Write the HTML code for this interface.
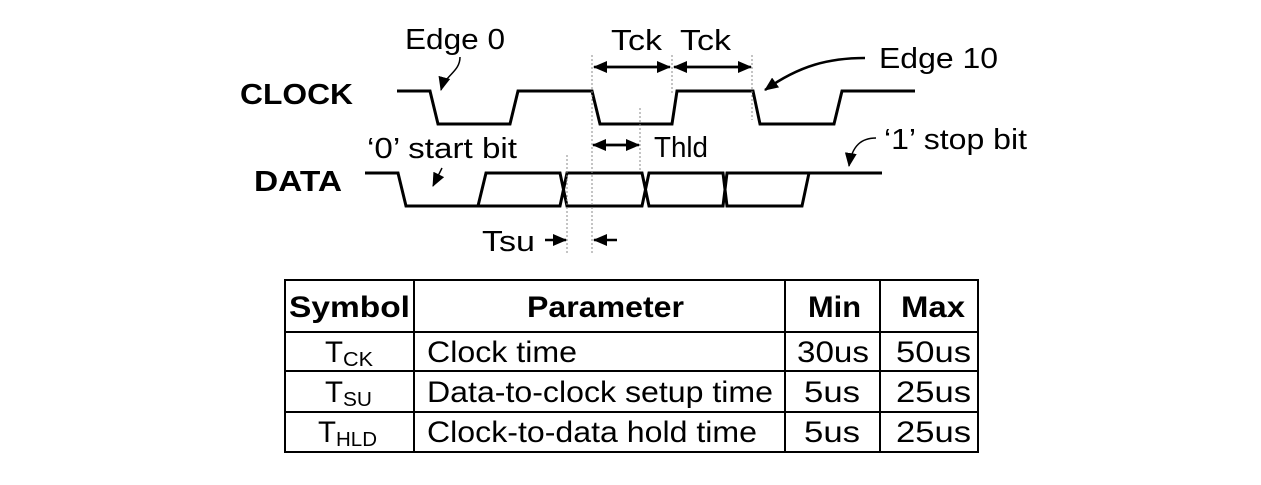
<!DOCTYPE html>
<html><head><meta charset="utf-8"><style>body{margin:0;background:#fff}svg{display:block}</style></head><body>
<svg width="1261" height="485" viewBox="0 0 1261 485" xmlns="http://www.w3.org/2000/svg" font-family="Liberation Sans, sans-serif">
<defs><marker id="a" markerWidth="14" markerHeight="12" refX="13" refY="6" orient="auto" markerUnits="userSpaceOnUse"><path d="M0,0 L14,6 L0,12z" fill="#000"/></marker></defs>
<g fill="none" stroke="#000" stroke-width="3">
<polyline points="397,91 430,91 438,124 510,124 518,91 592,91 600,124 672,124 677,91 753,91 760,124 834,124 842,91 915,91"/>
<polyline points="365,173 398,173 406,206 478,206 486,173 560,173 567,206 642,206 649,173 723,173 727,206 802,206 809,173 882,173"/>
<polyline points="479,206 560,206 567,173 642,173 649,206 723,206 727,173 809,173"/>
</g>
<g stroke="#888" stroke-width="1" stroke-dasharray="2,2">
<line x1="567" y1="155" x2="567" y2="255"/><line x1="592" y1="55" x2="592" y2="255"/>
<line x1="640" y1="108" x2="640" y2="172"/><line x1="672" y1="55" x2="672" y2="95"/><line x1="752" y1="55" x2="752" y2="120"/>
</g>
<g stroke="#000" stroke-width="2.5" fill="none">
<line x1="600" y1="67" x2="670" y2="67" marker-end="url(#a)"/><line x1="664" y1="67" x2="594" y2="67" marker-end="url(#a)"/>
<line x1="680" y1="67" x2="751" y2="67" marker-end="url(#a)"/><line x1="745" y1="67" x2="674" y2="67" marker-end="url(#a)"/>
<line x1="598" y1="145" x2="639" y2="145" marker-end="url(#a)"/><line x1="636" y1="145" x2="593" y2="145" marker-end="url(#a)"/>
<line x1="545" y1="240" x2="566" y2="240" marker-end="url(#a)"/><line x1="617" y1="240" x2="594" y2="240" marker-end="url(#a)"/>
<path d="M460,57 C460,72 445,75 441,90" stroke-width="1.5" marker-end="url(#a)"/>
<path d="M442,168 L433,186" stroke-width="1.5" marker-end="url(#a)"/>
<path d="M865,58 C830,58 800,65 765,90" marker-end="url(#a)"/>
<path d="M876,138 C862,138 852,145 849,166" stroke-width="1.5" marker-end="url(#a)"/>
</g>
<g font-size="29" fill="#000">
<text x="405" y="49" textLength="100" lengthAdjust="spacingAndGlyphs">Edge 0</text>
<text x="611" y="50" textLength="51" lengthAdjust="spacingAndGlyphs">Tck</text><text x="680" y="50" textLength="51" lengthAdjust="spacingAndGlyphs">Tck</text>
<text x="879" y="68" textLength="119" lengthAdjust="spacingAndGlyphs">Edge 10</text>
<text x="367" y="158" textLength="150" lengthAdjust="spacingAndGlyphs">‘0’ start bit</text>
<text x="654" y="157" textLength="54" lengthAdjust="spacingAndGlyphs">Thld</text>
<text x="884" y="149" textLength="143" lengthAdjust="spacingAndGlyphs">‘1’ stop bit</text>
<text x="482" y="251" textLength="53" lengthAdjust="spacingAndGlyphs">Tsu</text>
</g>
<g font-size="29" font-weight="bold"><text x="240" y="104" textLength="113" lengthAdjust="spacingAndGlyphs">CLOCK</text><text x="254" y="191" textLength="88" lengthAdjust="spacingAndGlyphs">DATA</text></g>
<g fill="none" stroke="#000" stroke-width="2">
<rect x="285" y="280" width="693" height="172"/>
<line x1="414" y1="280" x2="414" y2="452"/><line x1="785" y1="280" x2="785" y2="452"/><line x1="880" y1="280" x2="880" y2="452"/>
<line x1="285" y1="332" x2="978" y2="332"/><line x1="285" y1="371" x2="978" y2="371"/><line x1="285" y1="412" x2="978" y2="412"/>
</g>
<g font-size="30" fill="#000">
<g font-weight="bold"><text x="289" y="317" textLength="121" lengthAdjust="spacingAndGlyphs">Symbol</text>
<text x="527" y="317" textLength="157" lengthAdjust="spacingAndGlyphs">Parameter</text>
<text x="808" y="317" textLength="53" lengthAdjust="spacingAndGlyphs">Min</text>
<text x="901" y="317" textLength="64" lengthAdjust="spacingAndGlyphs">Max</text></g>
<text x="325" y="362" textLength="18" lengthAdjust="spacingAndGlyphs">T</text><text x="343" y="366" font-size="20" textLength="30" lengthAdjust="spacingAndGlyphs">CK</text>
<text x="325" y="402" textLength="18" lengthAdjust="spacingAndGlyphs">T</text><text x="343" y="406" font-size="20" textLength="29" lengthAdjust="spacingAndGlyphs">SU</text>
<text x="318" y="442" textLength="18" lengthAdjust="spacingAndGlyphs">T</text><text x="336" y="446" font-size="20" textLength="41" lengthAdjust="spacingAndGlyphs">HLD</text>
<text x="427" y="362" textLength="150" lengthAdjust="spacingAndGlyphs">Clock time</text>
<text x="427" y="402" textLength="346" lengthAdjust="spacingAndGlyphs">Data-to-clock setup time</text>
<text x="427" y="442" textLength="330" lengthAdjust="spacingAndGlyphs">Clock-to-data hold time</text>
<text x="797" y="362" textLength="72" lengthAdjust="spacingAndGlyphs">30us</text>
<text x="804" y="402" textLength="56" lengthAdjust="spacingAndGlyphs">5us</text>
<text x="804" y="442" textLength="56" lengthAdjust="spacingAndGlyphs">5us</text>
<text x="896" y="362" textLength="75" lengthAdjust="spacingAndGlyphs">50us</text>
<text x="896" y="402" textLength="75" lengthAdjust="spacingAndGlyphs">25us</text>
<text x="896" y="442" textLength="75" lengthAdjust="spacingAndGlyphs">25us</text>
</g>
</svg>
</body></html>
